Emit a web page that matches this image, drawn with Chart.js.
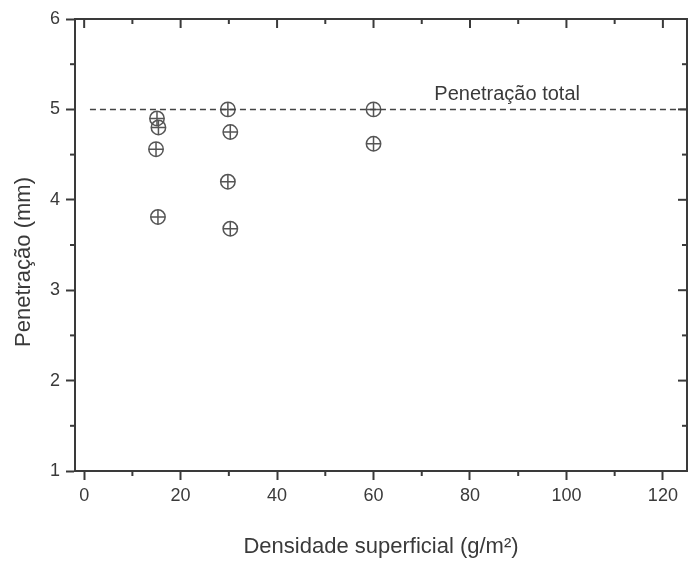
<!DOCTYPE html>
<html><head><meta charset="utf-8">
<script src="https://cdn.jsdelivr.net/npm/chart.js@4.4.0/dist/chart.umd.min.js"></script>
<style>html,body{margin:0;padding:0;background:#fff}#c{display:block}</style>
</head><body>
<canvas id="c" width="697" height="562"></canvas>
<script>
// ---- data ----
const xValues = [15.1, 15.4, 14.9, 15.3, 29.8, 30.3, 29.8, 30.3, 60.0, 60.0];
const yValues = [4.90, 4.80, 4.56, 3.81, 5.00, 4.75, 4.20, 3.68, 5.00, 4.62];
const refLineX = [1.2, 125];
const refLineY = [5, 5];
const xTicks = [0, 20, 40, 60, 80, 100, 120];
const xMinor = [10, 30, 50, 70, 90, 110];
const yTicks = [1, 2, 3, 4, 5, 6];
const yMinor = [1.5, 2.5, 3.5, 4.5, 5.5];
const refLabel = 'Penetração total';
const refLabelPos = [72.6, 5.10];
const xTitle = 'Densidade superficial (g/m²)';
const yTitle = 'Penetração (mm)';

const INK = '#3a3a3a';
const FONT = "'Liberation Sans', Arial, sans-serif";

const points = xValues.map((x, i) => ({x, y: yValues[i]}));
const refLine = refLineX.map((x, i) => ({x, y: refLineY[i]}));

const framePlugin = {
  id: 'frame',
  afterDraw(chart) {
    const {ctx, chartArea: a, scales: {x, y}} = chart;
    ctx.save();
    ctx.strokeStyle = INK;
    ctx.lineWidth = 2;
    const seg = (x1, y1, x2, y2) => { ctx.beginPath(); ctx.moveTo(x1, y1); ctx.lineTo(x2, y2); ctx.stroke(); };
    seg(a.left - 1, a.top, a.right + 1, a.top);
    seg(a.right, a.top, a.right, a.bottom + 1);
    xTicks.forEach(v => { const p = x.getPixelForValue(v); seg(p, a.top, p, a.top + 9); });
    xMinor.forEach(v => { const p = x.getPixelForValue(v); seg(p, a.top, p, a.top + 5); seg(p, a.bottom, p, a.bottom + 5); });
    yTicks.forEach(v => { const p = y.getPixelForValue(v); seg(a.right, p, a.right - 9, p); });
    yMinor.forEach(v => { const p = y.getPixelForValue(v); seg(a.right, p, a.right - 5, p); seg(a.left, p, a.left - 5, p); });
    ctx.fillStyle = INK;
    ctx.font = '20px ' + FONT;
    ctx.textAlign = 'left';
    ctx.textBaseline = 'alphabetic';
    ctx.fillText(refLabel, x.getPixelForValue(refLabelPos[0]), y.getPixelForValue(refLabelPos[1]));
    // y axis title
    ctx.translate(24, 262);
    ctx.rotate(-Math.PI / 2);
    ctx.font = '22px ' + FONT;
    ctx.textAlign = 'center';
    ctx.textBaseline = 'middle';
    ctx.fillText(yTitle, 0, 0);
    ctx.restore();
  }
};

new Chart(document.getElementById('c'), {
  type: 'scatter',
  data: {
    datasets: [
      { type: 'line', data: refLine, showLine: true, pointRadius: 0, borderColor: '#444', borderWidth: 1.5, borderDash: [6, 4], fill: false },
      { data: points, pointStyle: 'circle', pointRadius: 7.2, pointBorderWidth: 1.5, borderColor: '#555', backgroundColor: 'rgba(0,0,0,0)' },
      { data: points, pointStyle: 'cross', pointRadius: 7.2, pointBorderWidth: 1.5, borderColor: '#555', backgroundColor: 'rgba(0,0,0,0)' }
    ]
  },
  options: {
    responsive: false,
    animation: false,
    devicePixelRatio: 1,
    layout: { padding: { left: 0, right: 10, top: 19, bottom: 0 } },
    plugins: { legend: { display: false }, tooltip: { enabled: false } },
    scales: {
      x: {
        type: 'linear', min: -1.9, max: 125,
        afterBuildTicks: s => { s.ticks = xTicks.map(v => ({value: v})); },
        afterFit: s => { s.height = 91; },
        ticks: { font: { size: 18, family: FONT }, color: INK, padding: 5 },
        grid: { drawOnChartArea: false, tickLength: 9, tickWidth: 2, tickColor: INK },
        border: { color: INK, width: 2 },
        title: { display: true, text: xTitle, font: { size: 22, family: FONT }, color: INK, padding: { top: 0, bottom: 2 } }
      },
      y: {
        type: 'linear', min: 1, max: 6,
        afterBuildTicks: s => { s.ticks = yTicks.map(v => ({value: v})); },
        afterFit: s => { s.width = 75; },
        ticks: { font: { size: 18, family: FONT }, color: INK, padding: 6 },
        grid: { drawOnChartArea: false, tickLength: 9, tickWidth: 2, tickColor: INK },
        border: { color: INK, width: 2 },
        title: { display: false }
      }
    }
  },
  plugins: [framePlugin]
});
</script>
</body></html>
